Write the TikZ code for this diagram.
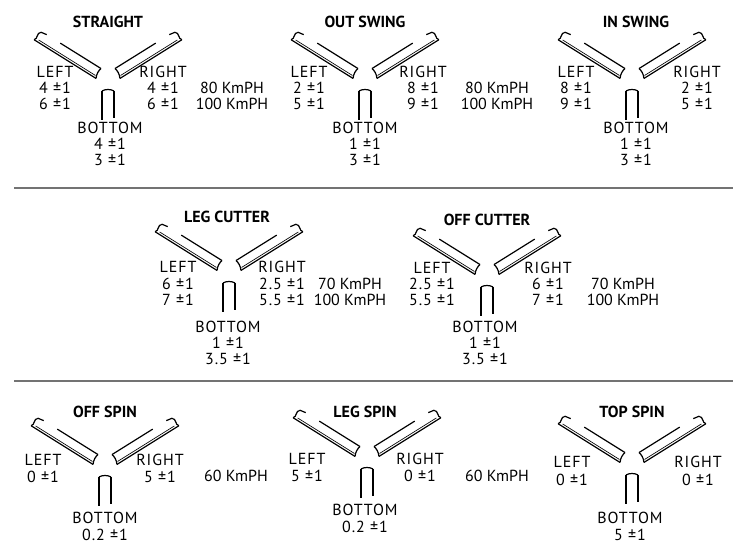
\documentclass[tikz,border=0pt]{standalone}
\usepackage{fontspec}
\setmainfont{PT Sans}
\begin{document}
\begin{tikzpicture}[x=0.75pt,y=0.75pt,
  ttl/.style={font=\bfseries\fontsize{12}{13}\selectfont, inner sep=0pt},
  lbl/.style={font=\fontsize{12}{13}\selectfont\addfontfeatures{LetterSpace=6}, inner sep=0pt},
  spd/.style={font=\fontsize{12}{13}\selectfont, inner sep=0pt},
  arm/.style={line width=0.9pt},
  sep/.style={line width=2.2pt, draw=black!55}]
\useasboundingbox (0,0) rectangle (747,-549);
\newcommand{\armtop}[1]{%
  \begin{scope}[rotate=#1]
   \draw[arm] (11,5) -- (84,5);
   \draw[arm,line width=0.5pt] (13,2.8) -- (80,2.8);
   \draw[arm] (12,-6) -- (60,-6);
   \draw[arm] (84,5) .. controls (81,2) and (86,-2) .. (82,-5) -- (76,-6);
   \draw[arm] (11,5) .. controls (13,1) and (13,-3) .. (12,-6);
  \end{scope}}
\newcommand{\armbot}{%
   \draw[arm] (-6,-11) -- (-6,-40);
   \draw[arm] (6,-11) -- (6,-38);
   \draw[arm] (-6,-11) .. controls (-3,-9) and (3,-9) .. (6,-11);}
\newcommand{\glyph}[3]{%
  \begin{scope}[shift={(#2,-#3)}]
   \coordinate (#1) at (0,0);
   \armtop{148}
   \begin{scope}[xscale=-1]\armtop{148}\end{scope}
   \armbot
  \end{scope}}
% separators
\draw[sep] (14,-188) -- (733,-188);
\draw[sep] (14,-381) -- (733,-381);
% STRAIGHT
\node[ttl] (t1) at (108,-22) {STRAIGHT};
\glyph{g1}{108}{80}
\node[lbl] (l1) at (55,-72) {LEFT};
\node[lbl] (l1a) at (55,-88) {4 ±1};
\node[lbl] (l1b) at (55,-104) {6 ±1};
\node[lbl] (r1) at (163,-72) {RIGHT};
\node[lbl] (r1a) at (163,-88) {4 ±1};
\node[lbl] (r1b) at (163,-104) {6 ±1};
\node[spd] (s1a) at (232,-88) {80 KmPH};
\node[spd] (s1b) at (232,-104) {100 KmPH};
\node[lbl] (b1) at (110,-128) {BOTTOM};
\node[lbl] (b1a) at (110,-144) {4 ±1};
\node[lbl] (b1b) at (110,-160) {3 ±1};
% OUT SWING
\node[ttl] (t2) at (365,-22) {OUT SWING};
\glyph{g2}{365}{80}
\node[lbl] (l2) at (309,-72) {LEFT};
\node[lbl] (l2a) at (309,-88) {2 ±1};
\node[lbl] (l2b) at (309,-104) {5 ±1};
\node[lbl] (r2) at (423,-72) {RIGHT};
\node[lbl] (r2a) at (423,-88) {8 ±1};
\node[lbl] (r2b) at (423,-104) {9 ±1};
\node[spd] (s2a) at (497,-88) {80 KmPH};
\node[spd] (s2b) at (497,-104) {100 KmPH};
\node[lbl] (b2) at (365,-128) {BOTTOM};
\node[lbl] (b2a) at (365,-144) {1 ±1};
\node[lbl] (b2b) at (365,-160) {3 ±1};
% IN SWING
\node[ttl] (t3) at (636,-22) {IN SWING};
\glyph{g3}{632}{80}
\node[lbl] (l3) at (576,-72) {LEFT};
\node[lbl] (l3a) at (576,-88) {8 ±1};
\node[lbl] (l3b) at (576,-104) {9 ±1};
\node[lbl] (r3) at (697,-72) {RIGHT};
\node[lbl] (r3a) at (697,-88) {2 ±1};
\node[lbl] (r3b) at (697,-104) {5 ±1};
\node[lbl] (b3) at (636,-128) {BOTTOM};
\node[lbl] (b3a) at (636,-144) {1 ±1};
\node[lbl] (b3b) at (636,-160) {3 ±1};
% LEG CUTTER
\node[ttl] (t4) at (227,-217) {LEG CUTTER};
\glyph{g4}{229}{272}
\node[lbl] (l4) at (178,-267) {LEFT};
\node[lbl] (l4a) at (178,-284) {6 ±1};
\node[lbl] (l4b) at (178,-300) {7 ±1};
\node[lbl] (r4) at (282,-267) {RIGHT};
\node[lbl] (r4a) at (282,-284) {2.5 ±1};
\node[lbl] (r4b) at (282,-300) {5.5 ±1};
\node[spd] (s4a) at (350,-284) {70 KmPH};
\node[spd] (s4b) at (350,-300) {100 KmPH};
\node[lbl] (b4) at (228,-327) {BOTTOM};
\node[lbl] (b4a) at (228,-343) {1 ±1};
\node[lbl] (b4b) at (228,-359) {3.5 ±1};
% OFF CUTTER
\node[ttl] (t5) at (487,-220) {OFF CUTTER};
\glyph{g5}{487}{276}
\node[lbl] (l5) at (432,-268) {LEFT};
\node[lbl] (l5a) at (432,-284) {2.5 ±1};
\node[lbl] (l5b) at (432,-300) {5.5 ±1};
\node[lbl] (r5) at (548,-268) {RIGHT};
\node[lbl] (r5a) at (548,-284) {6 ±1};
\node[lbl] (r5b) at (548,-300) {7 ±1};
\node[spd] (s5a) at (623,-284) {70 KmPH};
\node[spd] (s5b) at (623,-300) {100 KmPH};
\node[lbl] (b5) at (485,-327) {BOTTOM};
\node[lbl] (b5a) at (485,-343) {1 ±1};
\node[lbl] (b5b) at (485,-359) {3.5 ±1};
% OFF SPIN
\node[ttl] (t6) at (105,-412) {OFF SPIN};
\glyph{g6}{105}{466}
\node[lbl] (l6) at (43,-460) {LEFT};
\node[lbl] (l6a) at (43,-477) {0 ±1};
\node[lbl] (r6) at (160,-460) {RIGHT};
\node[lbl] (r6a) at (160,-477) {5 ±1};
\node[spd] (s6) at (236,-476) {60 KmPH};
\node[lbl] (b6) at (105,-518) {BOTTOM};
\node[lbl] (b6a) at (105,-535) {0.2 ±1};
% LEG SPIN
\node[ttl] (t7) at (365,-412) {LEG SPIN};
\glyph{g7}{367}{458}
\node[lbl] (l7) at (307,-459) {LEFT};
\node[lbl] (l7a) at (307,-476) {5 ±1};
\node[lbl] (r7) at (420,-459) {RIGHT};
\node[lbl] (r7a) at (420,-476) {0 ±1};
\node[spd] (s7) at (497,-476) {60 KmPH};
\node[lbl] (b7) at (365,-510) {BOTTOM};
\node[lbl] (b7a) at (365,-527) {0.2 ±1};
% TOP SPIN
\node[ttl] (t8) at (632,-412) {TOP SPIN};
\glyph{g8}{632}{464}
\node[lbl] (l8) at (572,-462) {LEFT};
\node[lbl] (l8a) at (572,-480) {0 ±1};
\node[lbl] (r8) at (698,-462) {RIGHT};
\node[lbl] (r8a) at (698,-480) {0 ±1};
\node[lbl] (b8) at (630,-518) {BOTTOM};
\node[lbl] (b8a) at (630,-535) {5 ±1};
\end{tikzpicture}
\end{document}
